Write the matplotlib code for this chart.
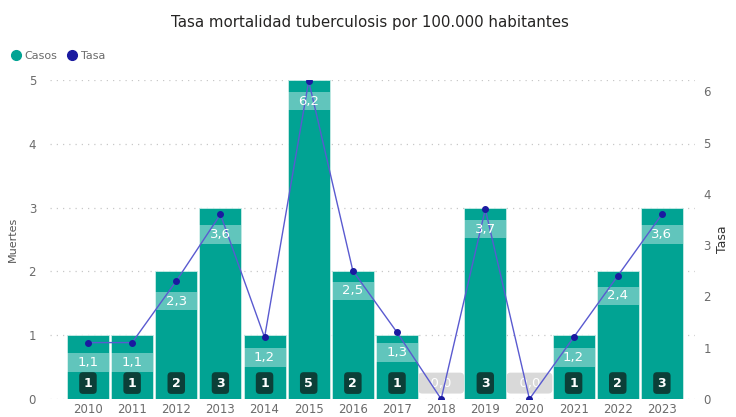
import matplotlib.pyplot as plt

# datos
years = ['2010', '2011', '2012', '2013', '2014', '2015', '2016', '2017',
         '2018', '2019', '2020', '2021', '2022', '2023']
casos = [1, 1, 2, 3, 1, 5, 2, 1, 0, 3, 0, 1, 2, 3]
tasa = [1.1, 1.1, 2.3, 3.6, 1.2, 6.2, 2.5, 1.3, 0.0, 3.7, 0.0, 1.2, 2.4, 3.6]

teal = '#01A393'
grey_txt = '#6b6b6b'

fig = plt.figure(figsize=(7.36, 4.17), dpi=100)
ax = fig.add_axes([50 / 736, 18 / 417, 645 / 736, 319 / 417])
ax2 = ax.twinx()

x = list(range(len(years)))
ax.bar(x, casos, width=0.95, color=teal, edgecolor='#c8ece7', linewidth=0.6, zorder=2)
ax.set_xlim(-0.86, 13.75)
ax.set_ylim(0, 5)
ax.set_yticks(range(6))
ax.set_xticks(x)
ax.set_xticklabels(years)
ax.grid(axis='y', linestyle=(0, (1, 4)), color='#c8c8c8', linewidth=0.9, zorder=0)
ax.set_axisbelow(True)

# etiquetas de casos
for xi, c in zip(x, casos):
    if c > 0:
        ax.text(xi, 0.25, str(c), ha='center', va='center', color='white',
                fontsize=9, fontweight='bold', zorder=5,
                bbox=dict(boxstyle='round,pad=0.35,rounding_size=0.3',
                          fc='#0c3f38', ec='none'))

# linea de tasa
ax2.set_ylim(0, 6.22)
ax2.set_yticks(range(7))
ax2.plot(x, tasa, color='#5a5ad0', linewidth=1.0, marker='o', markersize=4,
         markerfacecolor='#1a1aa0', markeredgecolor='#1a1aa0', zorder=4)

# etiquetas de tasa
off = 0.39
for xi, t in zip(x, tasa):
    lab = f'{t:.1f}'.replace('.', ',')
    if t > 0:
        ax2.bar(xi, 0.36, bottom=t - off - 0.18, width=0.95, color='white',
                alpha=0.38, linewidth=0, zorder=3)
        ax2.text(xi, t - off, lab, ha='center', va='center', color='white',
                 fontsize=9.5, zorder=5)
    else:
        ax2.text(xi, 0.31, '  ' + lab + '  ', ha='center', va='center', color='white',
                 fontsize=9.5, zorder=3,
                 bbox=dict(boxstyle='round,pad=0.3,rounding_size=0.3',
                           fc='#d9d9d9', ec='none'))

for a in (ax, ax2):
    for s in a.spines.values():
        s.set_visible(False)
    a.tick_params(length=0, labelsize=8.5, labelcolor=grey_txt)
ax.tick_params(axis='y', pad=10)
ax.tick_params(axis='x', pad=3)
ax2.tick_params(axis='y', pad=6)

ax.set_ylabel('Muertes', fontsize=8, color='#555555', labelpad=8)
ax2.set_ylabel('Tasa', fontsize=9, color='#333333', labelpad=4)

fig.text(0.503, 0.945, 'Tasa mortalidad tuberculosis por 100.000 habitantes',
         ha='center', va='center', fontsize=10.8, color='#252423')

# leyenda
ax.legend(handles=[
    plt.Line2D([], [], marker='o', linestyle='', color=teal, markersize=7, label='Casos'),
    plt.Line2D([], [], marker='o', linestyle='', color='#1a1aa0', markersize=7, label='Tasa'),
], loc='upper left', bbox_to_anchor=(-50 / 645, 1.105), ncol=2, frameon=False,
    fontsize=8, handletextpad=-0.2, columnspacing=0.3, labelcolor=grey_txt,
    borderaxespad=0)

fig.savefig('out.png', dpi=100)
